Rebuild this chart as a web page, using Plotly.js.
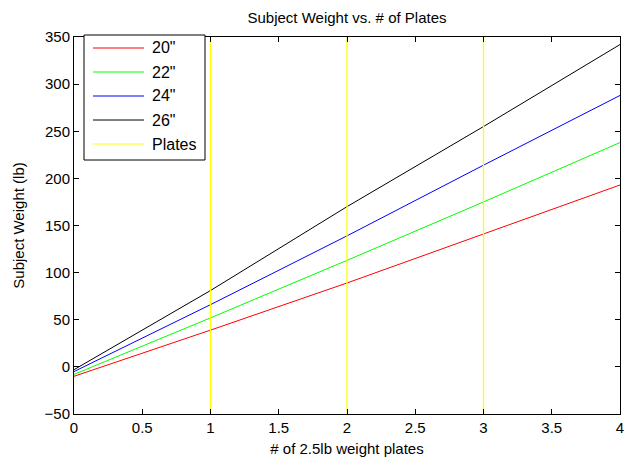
<!DOCTYPE html>
<html>
<head>
<meta charset="utf-8">
<script src="https://cdn.plot.ly/plotly-3.0.1.min.js"></script>
<style>html,body{margin:0;padding:0;background:#fff;}#chart{width:628px;height:458px;}</style>
</head>
<body>
<div id="chart"></div>
<script>
const plates = [0, 1, 2, 3, 4];
const w20 = [-10, 39, 89, 141, 193];
const w22 = [-8, 52, 113, 175, 238];
const w24 = [-5, 66, 139, 214, 288];
const w26 = [-3, 81, 170, 255, 342];
const seriesNames = ['20"', '22"', '24"', '26"', 'Plates'];
const plateMarks = [1, 2, 3];
const yRange = [-50, 350];

const font = 'Liberation Sans, Arial, Helvetica, sans-serif';

const px = [], py = [];
plateMarks.forEach((p, i) => {
  px.push(p, p); py.push(yRange[0], yRange[1]);
  if (i < plateMarks.length - 1) { px.push(null); py.push(null); }
});

const colors = ['#ff0000', '#00ff00', '#0000ff', '#000000', '#ffff00'];
const ys = [w20, w22, w24, w26];
const traces = ys.map((y, i) => ({
  x: plates, y: y, type: 'scatter', mode: 'lines', name: seriesNames[i],
  line: {color: colors[i], width: 1}
}));
traces.push({
  x: px, y: py, type: 'scatter', mode: 'lines', name: seriesNames[4],
  line: {color: colors[4], width: 1.3}
});

// MATLAB-style legend box (drawn in paper coordinates)
const plotL = 74, plotW = 546, plotB = 414, plotH = 377;
const toPX = p => (p - plotL) / plotW;
const toPY = p => (plotB - p) / plotH;
const shapes = [{
  type: 'rect', xref: 'paper', yref: 'paper',
  x0: toPX(84), x1: toPX(205), y0: toPY(160), y1: toPY(35),
  fillcolor: '#fff', line: {color: '#000', width: 1}, layer: 'above'
}];
const annotations = [];
seriesNames.forEach((nm, i) => {
  const yy = toPY(48 + 24 * i);
  shapes.push({type: 'line', xref: 'paper', yref: 'paper', x0: toPX(93), x1: toPX(144), y0: yy, y1: yy,
    line: {color: colors[i], width: 1}, layer: 'above'});
  annotations.push({xref: 'paper', yref: 'paper', x: toPX(150), y: yy, xanchor: 'left', yanchor: 'middle',
    text: nm, showarrow: false, font: {family: font, size: 16, color: '#000'}});
});

const axisCommon = {
  showgrid: false, zeroline: false, showline: true, linecolor: '#000', linewidth: 1,
  mirror: 'allticks', ticks: 'inside', ticklen: 5, tickcolor: '#000', tickwidth: 1,
  tickfont: {family: font, size: 15, color: '#000'}
};

const layout = {
  width: 628, height: 458,
  margin: {l: 74, r: 8, t: 37, b: 44},
  paper_bgcolor: '#fff', plot_bgcolor: '#fff',
  font: {family: font, color: '#000'},
  title: {text: 'Subject Weight vs. # of Plates', font: {family: font, size: 15, color: '#000'}, x: 0.5, xref: 'paper', y: 1, yref: 'paper', yanchor: 'bottom', pad: {b: 14}},
  xaxis: Object.assign({}, axisCommon, {range: [0, 4], dtick: 0.5, tick0: 0,
    title: {text: '# of 2.5lb weight plates', font: {family: font, size: 15, color: '#000'}, standoff: 8}}),
  yaxis: Object.assign({}, axisCommon, {range: yRange, dtick: 50, tick0: 0,
    title: {text: 'Subject Weight (lb)', font: {family: font, size: 15, color: '#000'}, standoff: 16}}),
  shapes: shapes,
  annotations: annotations,
  showlegend: false
};

Plotly.newPlot('chart', traces, layout, {displayModeBar: false, staticPlot: true});
</script>
</body>
</html>
